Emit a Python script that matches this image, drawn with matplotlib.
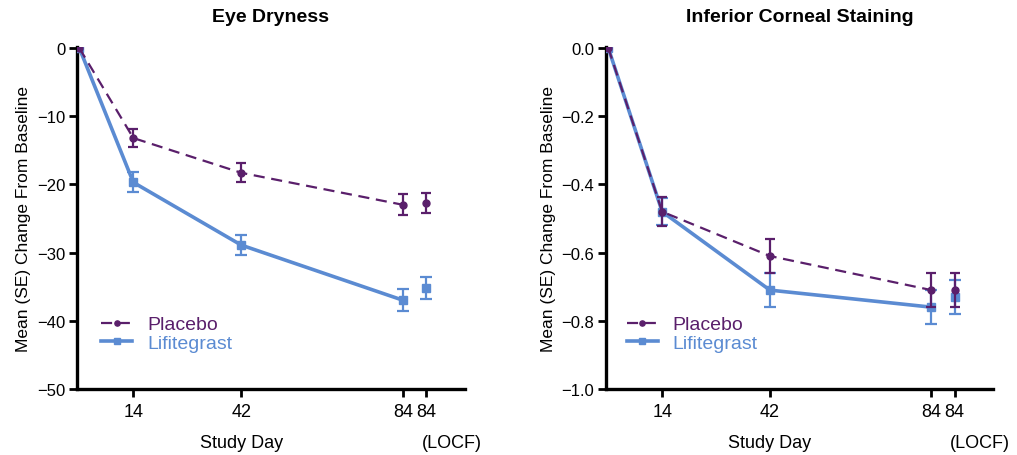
import matplotlib
matplotlib.use("Agg")
import matplotlib.pyplot as plt
import matplotlib.transforms as mtransforms

plt.rcParams['font.family'] = ['Liberation Sans', 'DejaVu Sans']

# ---- data ----
days = [0, 14, 42, 84, 90]          # 90 = position of "84 (LOCF)"
tick_pos = [14, 42, 84, 90]
tick_labels = ["14", "42", "84", "84"]

dry_placebo = [0, -13.2, -18.3, -23.0, -22.7]
dry_placebo_se = [0, 1.3, 1.4, 1.55, 1.5]
dry_lifi = [0, -19.7, -28.9, -37.0, -35.2]
dry_lifi_se = [0, 1.45, 1.5, 1.6, 1.6]

ics_placebo = [0, -0.48, -0.61, -0.71, -0.71]
ics_placebo_se = [0, 0.042, 0.049, 0.05, 0.05]
ics_lifi = [0, -0.48, -0.71, -0.76, -0.73]
ics_lifi_se = [0, 0.04, 0.05, 0.05, 0.05]

titles = ["Eye Dryness", "Inferior Corneal Staining"]
yticks_dry = [0, -10, -20, -30, -40, -50]
yticks_ics = [0.0, -0.2, -0.4, -0.6, -0.8, -1.0]
ytick_labels_dry = ["0", "\u221210", "\u221220", "\u221230", "\u221240", "\u221250"]
ytick_labels_ics = ["0.0", "\u22120.2", "\u22120.4", "\u22120.6", "\u22120.8", "\u22121.0"]

PURPLE = "#5a1f6b"
BLUE = "#5b8bd2"

fig = plt.figure(figsize=(10.17, 4.56), dpi=100)
axL = fig.add_axes([77/1017, 1-390/456, 388/1017, 342/456])
axR = fig.add_axes([606/1017, 1-390/456, 387/1017, 342/456])

panels = [
    (axL, dry_placebo, dry_placebo_se, dry_lifi, dry_lifi_se, (-50, 0), yticks_dry, ytick_labels_dry, 0.062),
    (axR, ics_placebo, ics_placebo_se, ics_lifi, ics_lifi_se, (-1.0, 0), yticks_ics, ytick_labels_ics, 0.053),
]

for i, (ax, p, pse, l, lse, ylim, yt, ytl, legx) in enumerate(panels):
    # Lifitegrast: solid line to day 84, separate LOCF point
    ax.plot(days[:4], l[:4], color=BLUE, lw=2.6, marker='s', ms=6, zorder=3,
            label="Lifitegrast")
    ax.errorbar(days[1:], l[1:], yerr=lse[1:], fmt='none', ecolor=BLUE,
                elinewidth=1.6, capsize=4, capthick=1.6, zorder=3)
    ax.plot(days[4:], l[4:], color=BLUE, lw=0, marker='s', ms=6, zorder=3)
    # Placebo
    ax.plot(days[:4], p[:4], color=PURPLE, lw=1.6, ls=(0, (5.0, 3.0)), marker='o',
            ms=5, zorder=4, label="Placebo")
    ax.errorbar(days[1:], p[1:], yerr=pse[1:], fmt='none', ecolor=PURPLE,
                elinewidth=1.6, capsize=3.5, capthick=1.6, zorder=4)
    ax.plot(days[4:], p[4:], color=PURPLE, lw=0, marker='o', ms=5, zorder=4)

    ax.set_xlim(-0.6, 100)
    ax.set_ylim(ylim[0], ylim[1] + (ylim[1]-ylim[0]) * 0.003)
    ax.set_xticks(tick_pos)
    ax.set_xticklabels(tick_labels, fontsize=13)
    ax.set_yticks(yt)
    ax.set_yticklabels(ytl, fontsize=12)
    for s in ['top', 'right']:
        ax.spines[s].set_visible(False)
    for s in ['left', 'bottom']:
        ax.spines[s].set_linewidth(2.4)
    ax.tick_params(axis='both', width=2.0, length=6, direction='out')
    ax.tick_params(axis='y', pad=2.5)
    ax.tick_params(axis='x', pad=4)

    trans = mtransforms.blended_transform_factory(ax.transData, ax.transAxes)
    ax.text(42, -0.155, "Study Day", transform=trans, ha='center', va='center', fontsize=13)
    ax.text(96.5, -0.155, "(LOCF)", transform=trans, ha='center', va='center', fontsize=13)
    ax.text(0.5, 1.09, titles[i], transform=ax.transAxes, ha='center', va='center',
            fontsize=14, fontweight='bold')
    ax.set_ylabel("Mean (SE) Change From Baseline", fontsize=12.5, labelpad=4)

    handles, labels = ax.get_legend_handles_labels()
    leg = ax.legend(handles[::-1], labels[::-1], loc='upper left',
                    bbox_to_anchor=(legx, 0.214), frameon=False, fontsize=14,
                    handlelength=1.6, handletextpad=0.77, labelspacing=0.05,
                    borderpad=0, borderaxespad=0, markerscale=0.75)
    for t, c in zip(leg.get_texts(), [PURPLE, BLUE]):
        t.set_color(c)

fig.savefig("out.png", dpi=100)
